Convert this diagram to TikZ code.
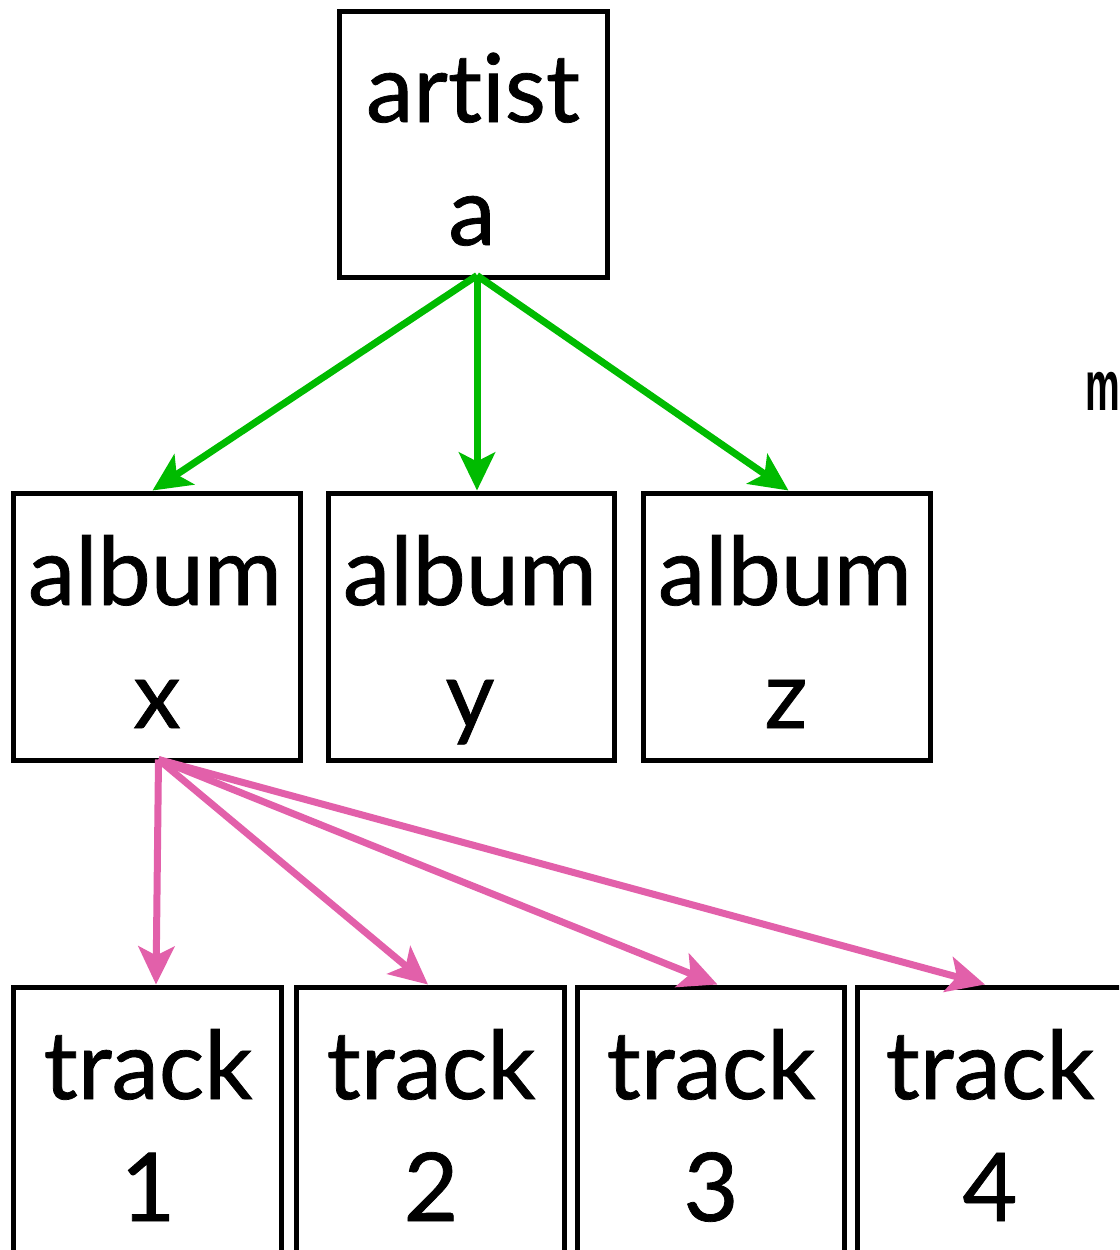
\documentclass[tikz,border=0pt]{standalone}
\usepackage{fontspec}
\setmainfont[Ligatures=NoCommon, FakeBold=0.8]{Lato}
\newfontfamily\sidefont{Liberation Sans}
\usetikzlibrary{arrows.meta}

\definecolor{ownsgreen}{RGB}{0,187,0}
\definecolor{trackpink}{RGB}{226,96,170}

\tikzset{
  entity/.style={draw=black, line width=5pt, fill=white, inner sep=0pt},
  word/.style={anchor=base, inner sep=0pt, font=\fontsize{95}{110}\selectfont},
  owns/.style={draw=ownsgreen, line width=7pt,
    -{Stealth[length=38pt, width=36pt, inset=9pt]}},
  holds/.style={draw=trackpink, line width=7pt,
    -{Stealth[length=38pt, width=36pt, inset=9pt]}}
}

\begin{document}
\begin{tikzpicture}[x=1pt, y=-1pt]
  \useasboundingbox (0,0) rectangle (1119,1250);
  \clip (0,0) rectangle (1119,1250);

  % boxes
  \node[entity, minimum width=268pt, minimum height=266pt] (artist) at (473,144) {};
  \node[entity, minimum width=287pt, minimum height=267pt] (albx) at (156.5,626.5) {};
  \node[entity, minimum width=286pt, minimum height=267pt] (alby) at (471,626.5) {};
  \node[entity, minimum width=287pt, minimum height=267pt] (albz) at (786.5,626.5) {};
  \node[entity, minimum width=268pt, minimum height=273pt] (trk1) at (147,1123.5) {};
  \node[entity, minimum width=268pt, minimum height=273pt] (trk2) at (430,1123.5) {};
  \node[entity, minimum width=267pt, minimum height=273pt] (trk3) at (710.5,1123.5) {};
  \node[entity, minimum width=268pt, minimum height=273pt] (trk4) at (991,1123.5) {};

  % labels
  \node[word] (artistA) at (473,122) {artist};
  \node[word] (artistB) at (472,245) {a};
  \node[word] (albxA) at (155,605) {album};
  \node[word] (albxB) at (157,728) {x};
  \node[word] (albyA) at (470,605) {album};
  \node[word] (albyB) at (470,728) {y};
  \node[word] (albzA) at (785,605) {album};
  \node[word] (albzB) at (786,728) {z};
  \node[word] (trk1A) at (148,1099) {track};
  \node[word] (trk1B) at (148,1221) {1};
  \node[word] (trk2A) at (431,1099) {track};
  \node[word] (trk2B) at (431,1221) {2};
  \node[word] (trk3A) at (711,1099) {track};
  \node[word] (trk3B) at (711,1221) {3};
  \node[word] (trk4A) at (990,1099) {track};
  \node[word] (trk4B) at (990,1221) {4};

  \node[anchor=base west, inner sep=0pt] (side) at (1085,410)
    {\sidefont\bfseries\fontsize{71}{80}\selectfont\scalebox{0.55}[1]{m}};

  % artist -> albums
  \coordinate (artistOut) at ([xshift=4pt, yshift=4pt]artist.south);
  \draw[owns] (artistOut) -- ([xshift=-4pt]albx.north);
  \draw[owns] (artistOut) -- ([xshift=6pt]alby.north);
  \draw[owns] (artistOut) -- ([xshift=2pt]albz.north);

  % album x -> tracks
  \coordinate (albOut) at ([xshift=2pt, yshift=3pt]albx.south);
  \draw[holds] (albOut) -- ([xshift=9pt]trk1.north);
  \draw[holds] (albOut) -- ([xshift=-2pt]trk2.north);
  \draw[holds] (albOut) -- ([xshift=7pt]trk3.north);
  \draw[holds] (albOut) -- ([xshift=-6pt]trk4.north);
\end{tikzpicture}
\end{document}
